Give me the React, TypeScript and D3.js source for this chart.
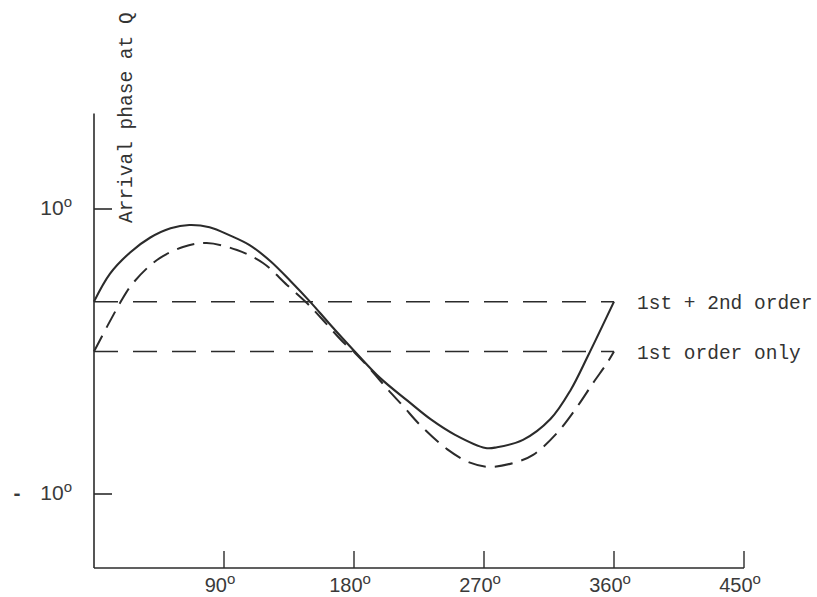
import * as d3 from "d3";

// phase angle (deg) and arrival phase (deg)
const solidPhase = [0, 11, 25, 39, 53, 66, 80, 94, 108, 122, 136, 150, 163, 181, 198, 217, 233, 250, 271, 279, 297, 316, 330, 342, 360];
const solidValue = [3.5, 5.45, 6.95, 8.0, 8.65, 8.88, 8.72, 8.15, 7.45, 6.35, 4.95, 3.45, 1.95, -0.05, -1.85, -3.45, -4.75, -5.85, -6.77, -6.72, -6.2, -4.74, -2.7, -0.3, 3.5];

const dashedPhase = [0, 18, 27, 43.6, 61.6, 78, 99, 117, 133.6, 147.4, 158.5, 172.4, 180.7, 193, 202.8, 214.6, 225.7, 244.4, 260.3, 274.2, 292.8, 304, 320.5, 334.4, 345.5, 355.2, 360];
const dashedValue = [0, 3.4, 4.8, 6.42, 7.33, 7.61, 7.12, 6.21, 4.67, 3.4, 2.21, 0.67, -0.1, -1.44, -2.6, -3.9, -5.15, -6.85, -7.8, -8.1, -7.75, -7.26, -5.72, -3.89, -2.21, -0.81, 0];

const refLevels = [3.5, 0];
const refLabels = ["1st + 2nd order", "1st order only"];

const xTicks = [90, 180, 270, 360, 450];
const yTicks = [10, -10];
const yTickLabels = ["10", "10"];
const yTickSigns = ["", "-"];

const W = 817;
const H = 597;
const ink = "#2b2b2b";
const mono = "'Liberation Mono', 'DejaVu Sans Mono', monospace";
const sans = "'Liberation Sans', Arial, sans-serif";

export default function App() {
  const x = d3.scaleLinear().domain([0, 450]).range([94, 744]);
  const y = d3.scaleLinear().domain([-10, 10]).range([494, 209]);
  const yTop = 16.7;
  const yBottom = y.invert(568);

  const line = d3.line<[number, number]>()
    .x(d => x(d[0]))
    .y(d => y(d[1]))
    .curve(d3.curveCatmullRom.alpha(0.5));

  const solid = line(solidPhase.map((p, i) => [p, solidValue[i]]))!;
  const dashed = line(dashedPhase.map((p, i) => [p, dashedValue[i]]))!;

  return (
    <svg width={W} height={H} style={{ position: "absolute", left: 0, top: 0, background: "#fff" }}>
      {/* axes */}
      <line x1={x(0)} x2={x(0)} y1={y(yTop)} y2={y(yBottom)} stroke={ink} strokeWidth={1.6} />
      <line x1={x(0)} x2={x(450)} y1={y(yBottom)} y2={y(yBottom)} stroke={ink} strokeWidth={1.6} />

      {xTicks.map(t => (
        <g key={t}>
          <line x1={x(t)} x2={x(t)} y1={y(yBottom)} y2={y(yBottom) - 17} stroke={ink} strokeWidth={1.4} />
          <text x={x(t) - 4} y={592} textAnchor="middle" fontFamily={sans} fontSize={20} fill="#3a3a3a">
            {t}
            <tspan fontSize={15} dy={-8}>o</tspan>
          </text>
        </g>
      ))}

      {yTicks.map((t, i) => (
        <g key={t}>
          <line x1={x(0)} x2={x(0) + 18} y1={y(t)} y2={y(t)} stroke={ink} strokeWidth={1.6} />
          {yTickSigns[i] && (
            <text x={17} y={y(t) + 6} textAnchor="middle" fontFamily={sans} fontSize={21} fontWeight="bold" fill="#3a3a3a">
              {yTickSigns[i]}
            </text>
          )}
          <text x={72} y={y(t) + 6} textAnchor="end" fontFamily={sans} fontSize={21} fill="#3a3a3a">
            {yTickLabels[i]}
            <tspan fontSize={15} dy={-8}>o</tspan>
          </text>
        </g>
      ))}

      <text
        transform={`translate(132,223) rotate(-90)`}
        fontFamily={mono}
        fontSize={19.5}
        fill="#333"
      >
        Arrival phase at Q
      </text>

      {/* reference levels */}
      {refLevels.map((v, i) => (
        <g key={i}>
          <line x1={x(0)} x2={x(360)} y1={y(v)} y2={y(v)} stroke={ink} strokeWidth={1.5} strokeDasharray="24,15" />
          <text x={637} y={y(v) + 7} fontFamily={mono} fontSize={19.5} fill="#333">
            {refLabels[i]}
          </text>
        </g>
      ))}

      <path d={solid} fill="none" stroke={ink} strokeWidth={2.1} />
      <path d={dashed} fill="none" stroke={ink} strokeWidth={2} strokeDasharray="18,9" />
    </svg>
  );
}
